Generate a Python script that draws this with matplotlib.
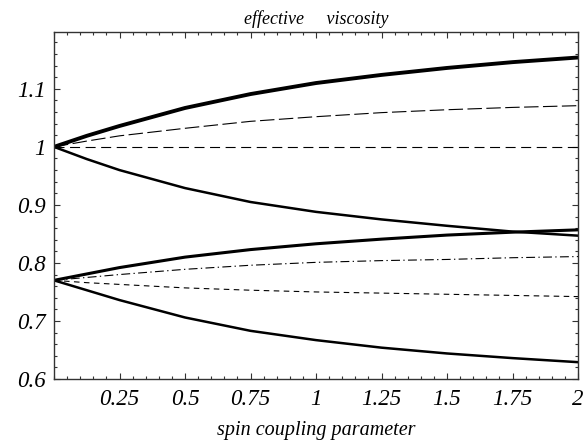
import matplotlib
matplotlib.use("Agg")
import matplotlib.pyplot as plt
from matplotlib.ticker import FixedLocator, MultipleLocator

x = [0.0, 0.125, 0.25, 0.5, 0.75, 1.0, 1.25, 1.5, 1.75, 2.0]
top_thick   = [1.0, 1.019, 1.036, 1.067, 1.091, 1.110, 1.124, 1.136, 1.146, 1.154]
long_dash   = [1.0, 1.010, 1.019, 1.032, 1.044, 1.052, 1.059, 1.064, 1.068, 1.071]
flat_dash   = [1.0, 1.0, 1.0, 1.0, 1.0, 1.0, 1.0, 1.0, 1.0, 1.0]
upper_down  = [1.0, 0.979, 0.960, 0.929, 0.905, 0.888, 0.875, 0.864, 0.854, 0.847]
lower_thick = [0.77, 0.781, 0.792, 0.810, 0.823, 0.833, 0.841, 0.848, 0.853, 0.857]
dash_dot    = [0.77, 0.775, 0.780, 0.789, 0.796, 0.801, 0.804, 0.806, 0.809, 0.811]
short_dash  = [0.77, 0.766, 0.763, 0.757, 0.753, 0.750, 0.748, 0.746, 0.744, 0.742]
bottom_down = [0.77, 0.753, 0.736, 0.706, 0.683, 0.667, 0.654, 0.644, 0.636, 0.629]

xticks = [0.25, 0.5, 0.75, 1, 1.25, 1.5, 1.75, 2]
xticklabels = ["0.25", "0.5", "0.75", "1", "1.25", "1.5", "1.75", "2"]
yticks = [0.6, 0.7, 0.8, 0.9, 1.0, 1.1]
yticklabels = ["0.6", "0.7", "0.8", "0.9", "1", "1.1"]

title = "effective     viscosity"
xlabel = "spin coupling parameter"

plt.rcParams['font.family'] = ['Liberation Serif', 'DejaVu Serif']

fig = plt.figure(figsize=(5.87, 4.44), dpi=100)
ax = fig.add_axes([0.092, 0.1464, 0.8927, 0.7816])

ax.plot(x, top_thick, color='black', lw=2.8)
ax.plot(x, long_dash, color='black', lw=0.8, dashes=(13, 4))
ax.plot(x, flat_dash, color='black', lw=0.8, dashes=(9, 5))
ax.plot(x, upper_down, color='black', lw=1.8)
ax.plot(x, lower_thick, color='black', lw=2.2)
ax.plot(x, dash_dot, color='black', lw=0.8, dashes=(8, 3, 1.2, 3))
ax.plot(x, short_dash, color='black', lw=0.8, dashes=(5, 4))
ax.plot(x, bottom_down, color='black', lw=1.8)

ax.set_xlim(0, 2)
ax.set_ylim(0.6, 1.198)

ax.xaxis.set_major_locator(FixedLocator(xticks))
ax.set_xticklabels(xticklabels)
ax.xaxis.set_minor_locator(MultipleLocator(0.05))
ax.yaxis.set_major_locator(FixedLocator(yticks))
ax.set_yticklabels(yticklabels)
ax.yaxis.set_minor_locator(MultipleLocator(0.02))

ax.tick_params(which='both', direction='in', top=True, right=True,
               color='#333333', width=0.8)
ax.tick_params(which='major', length=4.5)
ax.tick_params(which='minor', length=2.3)
ax.tick_params(axis='x', which='major', pad=7, labelsize=16.5)
ax.tick_params(axis='y', which='major', pad=6, labelsize=16.5)
for lab in ax.get_xticklabels() + ax.get_yticklabels():
    lab.set_fontstyle('italic')

for s in ax.spines.values():
    s.set_linewidth(1.0)
    s.set_color('#333333')

ax.set_title(title, fontsize=13, style='italic', pad=6)
ax.set_xlabel(xlabel, fontsize=14.5, style='italic', labelpad=8)

fig.savefig("out.png", dpi=100)
